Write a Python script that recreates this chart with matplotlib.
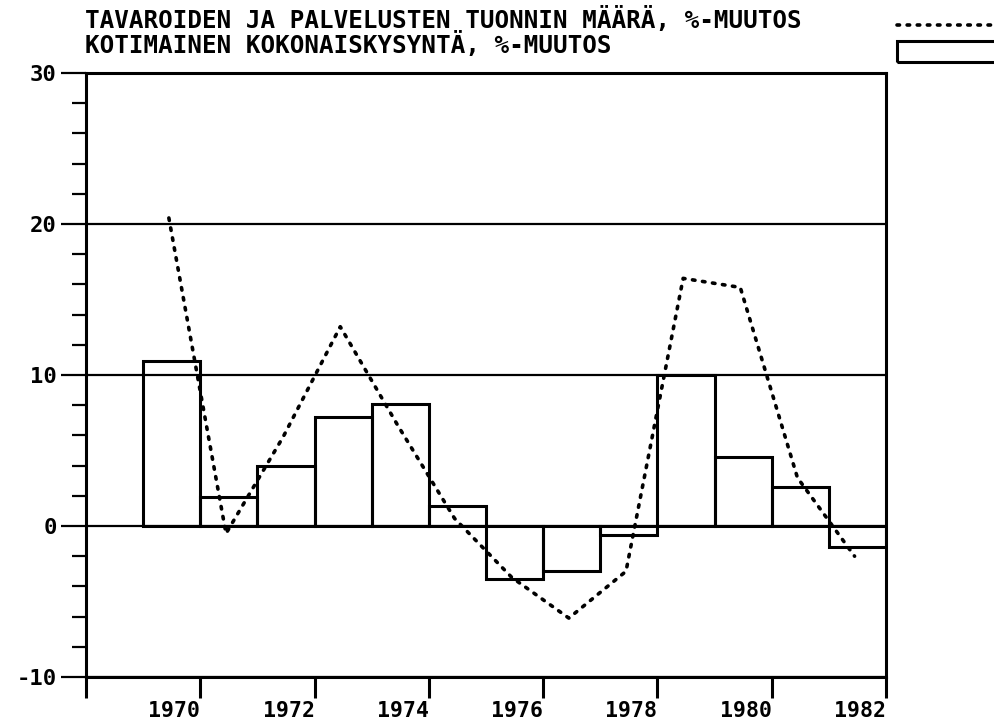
import matplotlib
matplotlib.use("Agg")
import matplotlib.pyplot as plt
from matplotlib.lines import Line2D
from matplotlib.patches import Rectangle
from matplotlib.ticker import MultipleLocator

# Data (annual % change)
years = [1970, 1971, 1972, 1973, 1974, 1975, 1976, 1977, 1978, 1979, 1980, 1981, 1982]
demand = [10.9, 1.9, 4.0, 7.2, 8.1, 1.3, -3.5, -3.0, -0.6, 10.0, 4.6, 2.6, -1.4]
imports = [20.4, -0.5, 5.9, 13.2, 6.7, 0.5, -3.4, -6.1, -3.0, 16.4, 15.8, 3.2, -2.0]
title_lines = ["TAVAROIDEN JA PALVELUSTEN TUONNIN MÄÄRÄ, %-MUUTOS",
               "KOTIMAINEN KOKONAISKYSYNTÄ, %-MUUTOS"]
xtick_years = [1968, 1970, 1972, 1974, 1976, 1978, 1980, 1982]
ytick_vals = [-10, 0, 10, 20, 30]

W, H = 994, 725
FONT = "DejaVu Sans Mono"
fig = plt.figure(figsize=(W / 100, H / 100), dpi=100)
ax = fig.add_axes([86 / W, 48 / H, 800 / W, 604 / H])

ax.bar(years, demand, width=-1, align="edge", fill=False,
       edgecolor="black", linewidth=2.2, zorder=3)
line_x = [y - 0.55 for y in years]
ax.plot(line_x, imports, color="black", linewidth=2.6,
        dashes=(0.7, 2.1), dash_capstyle="round", zorder=4)

ax.set_xlim(1968, 1982)
ax.set_ylim(-10, 30)
ax.set_xticks(xtick_years)
ax.set_xticklabels(["" if y == 1968 else str(y) for y in xtick_years])
ax.set_yticks(ytick_vals)
ax.set_yticklabels([str(v) for v in ytick_vals])
ax.yaxis.set_minor_locator(MultipleLocator(2))

ax.grid(axis="y", which="major", color="black", linewidth=1.6, zorder=1)
ax.set_axisbelow(True)

for sp in ax.spines.values():
    sp.set_linewidth(2.2)
    sp.set_color("black")

ax.tick_params(axis="x", direction="out", length=15, width=2.2, pad=2,
               labelsize=15.5)
ax.tick_params(axis="y", which="major", direction="out", length=18, width=1.6,
               pad=3, labelsize=16)
ax.tick_params(axis="y", which="minor", direction="out", length=10, width=1.6)
for lab in ax.get_xticklabels():
    lab.set_ha("right")
    lab.set_fontfamily(FONT)
    lab.set_fontweight("bold")
for lab in ax.get_yticklabels():
    lab.set_fontfamily(FONT)
    lab.set_fontweight("bold")

# Title lines
fig.text(85 / W, 1 - 28 / H, title_lines[0], family=FONT, weight="bold",
         fontsize=17.5, va="baseline", ha="left")
fig.text(85 / W, 1 - 53 / H, title_lines[1], family=FONT, weight="bold",
         fontsize=17.5, va="baseline", ha="left")

# Legend keys (upper right)
fig.add_artist(Line2D([897 / W, 1.0], [1 - 25 / H, 1 - 25 / H],
                      transform=fig.transFigure, color="black", linewidth=2.6,
                      dashes=(0.7, 2.1), dash_capstyle="round"))
fig.add_artist(Rectangle((897 / W, 1 - 62 / H), 110 / W, 21 / H,
                         transform=fig.transFigure, fill=False,
                         edgecolor="black", linewidth=2.2, clip_on=False))

fig.savefig("out.png", dpi=100)
